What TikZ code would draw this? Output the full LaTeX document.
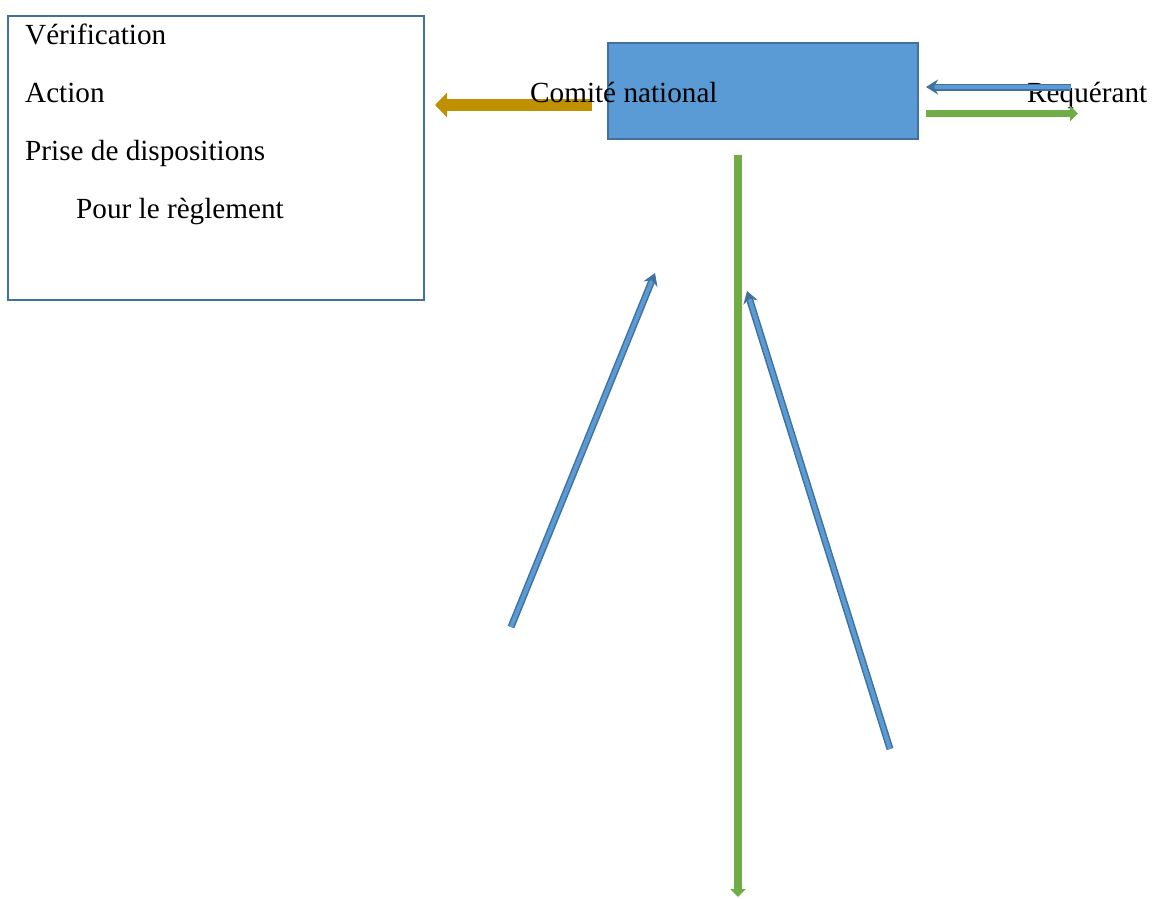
\documentclass[tikz,border=0pt]{standalone}
\usepackage{fontspec}
\setmainfont{Liberation Serif}
\usetikzlibrary{arrows.meta}

\definecolor{boxblue}{HTML}{5B9BD5}
\definecolor{edgeblue}{HTML}{41719C}
\definecolor{flowgold}{HTML}{BF9000}
\definecolor{flowgreen}{HTML}{70AD47}

\begin{document}
\begin{tikzpicture}[
  x=1pt, y=-1pt,
  txt/.style={font=\fontsize{29.2}{35}\selectfont, inner sep=0pt, anchor=base west},
  infobox/.style={draw=edgeblue, line width=2pt, minimum width=416pt, minimum height=284pt, inner sep=0pt},
  natbox/.style={draw=edgeblue, fill=boxblue, line width=2pt, minimum width=310pt, minimum height=96pt, inner sep=0pt},
  goldflow/.style={draw=flowgold, line width=12pt, -{Triangle[length=12pt, width=24pt]}},
  greenflow/.style={draw=flowgreen, line width=6.5pt, -{Triangle[length=8pt, width=15pt]}},
  blueflow/.style={draw=edgeblue, line width=1.5pt, double=boxblue, double distance=4pt, -{Stealth[length=12pt, width=15pt]}}
]
  \useasboundingbox (0,0) rectangle (1153,898);

  % --- Bloc de gauche ---
  \node[infobox] (taches) at (216,158) {};
  \node[txt] (verif) at (25,44) {Vérification};
  \node[txt] (action) at (25,102) {Action};
  \node[txt] (prise) at (25,160) {Prise de dispositions};
  \node[txt] (reglt) at (76,218) {Pour le règlement};

  % --- Comité national ---
  \node[natbox] (comite) at (763,91) {};

  % --- Requérant ---
  \node[txt] (requer) at (1027,102) {Requérant};

  % --- Points d'attache ---
  \coordinate (g1) at (592,105);
  \coordinate (g2) at (435,105);
  \coordinate (r1) at (1071,87);
  \coordinate (r2) at (926,87);
  \coordinate (r3) at (926,113.5);
  \coordinate (r4) at (1078,113.5);
  \coordinate (v1) at (738,155);
  \coordinate (v2) at (738,897);
  \coordinate (d1) at (511,627);
  \coordinate (d2) at (655,273);
  \coordinate (d3) at (890,749);
  \coordinate (d4) at (747,291);

  \draw[goldflow] (g1) -- (g2);
  \draw[blueflow] (r1) -- (r2);
  \draw[greenflow] (r3) -- (r4);
  \draw[greenflow, line width=7.5pt] (v1) -- (v2);
  \draw[blueflow] (d1) -- (d2);
  \draw[blueflow] (d3) -- (d4);

  % libellé par-dessus la flèche
  \node[txt] (comitelbl) at (530,102) {Comité national};

\end{tikzpicture}
\end{document}
